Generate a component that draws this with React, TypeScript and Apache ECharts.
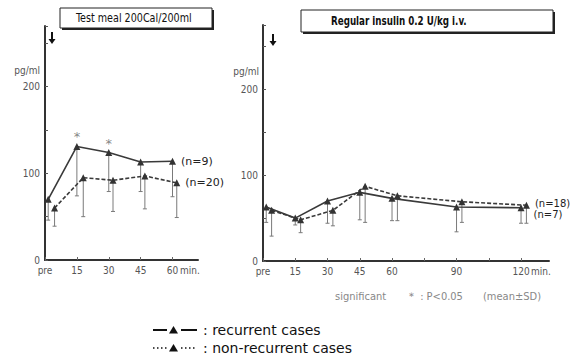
import { useEffect, useRef } from 'react';
import * as echarts from 'echarts';

// ---- data ----
const leftTickLabels: Record<number, string> = { 0: 'pre', 15: '15', 30: '30', 45: '45', 60: '60' };
const rightTickLabels: Record<number, string> = { 0: 'pre', 15: '15', 30: '30', 45: '45', 60: '60', 90: '90', 120: '120' };

// plotted x positions (minutes; slightly offset as in the original figure)
const leftRecX = [1.5, 15, 30, 45, 60];
const leftNonX = [4.5, 18, 32, 47, 62];
const leftRecMean = [70, 131, 124, 113, 114];
const leftRecSD = [24, 57, 45, 34, 41];
const leftNonMean = [60, 95, 92, 97, 89];
const leftNonSD = [21, 45, 36, 38, 40];
const leftSignificant = ['', '*', '*', '', ''];

const rightRecX = [1.5, 15, 30, 45, 60, 90, 120];
const rightNonX = [4, 17.5, 32.5, 47.5, 62.5, 92.5, 122.5];
const rightRecMean = [63, 50, 70, 80, 73, 63, 62];
const rightRecSD = [18, 8, 26, 32, 26, 29, 18];
const rightNonMean = [59, 48, 59, 87, 76, 69, 65];
const rightNonSD = [30, 15, 18, 42, 29, 24, 21];

const nLabels = { leftRec: '(n=9)', leftNon: '(n=20)', rightRec: '(n=7)', rightNon: '(n=18)' };

const LINE = '#3a3a3a';
const BAR = '#7a7a7a';
const LABEL = '#555';
const SANS = '"DejaVu Sans", sans-serif';
const NARROW = '"Liberation Sans Narrow", "DejaVu Sans Condensed", "Liberation Sans", Arial, sans-serif';

function errSeries(xs: number[], means: number[], sds: number[], idx: number) {
  return {
    type: 'custom',
    xAxisIndex: idx,
    yAxisIndex: idx,
    z: 1,
    silent: true,
    data: xs.map((x, i) => [x, means[i], means[i] - sds[i]]),
    renderItem: (_p: any, api: any) => {
      const top = api.coord([api.value(0), api.value(1)]);
      const bot = api.coord([api.value(0), api.value(2)]);
      return {
        type: 'group',
        children: [
          { type: 'line', shape: { x1: top[0], y1: top[1], x2: bot[0], y2: bot[1] }, style: { stroke: BAR, lineWidth: 1 } },
          { type: 'line', shape: { x1: bot[0] - 2, y1: bot[1], x2: bot[0] + 2, y2: bot[1] }, style: { stroke: BAR, lineWidth: 1 } },
        ],
      };
    },
  };
}

function lineSeries(xs: number[], means: number[], idx: number, dashed: boolean, labelFn: (i: number) => string, labelOffset: number[], fontSize: number) {
  return {
    type: 'line',
    xAxisIndex: idx,
    yAxisIndex: idx,
    z: 3,
    data: xs.map((x, i) => [x, means[i]]),
    symbol: 'triangle',
    symbolSize: 7,
    itemStyle: { color: '#333' },
    lineStyle: { color: LINE, width: 1.6, type: dashed ? [4, 2] : 'solid' },
    label: {
      show: true,
      position: 'right',
      offset: labelOffset,
      formatter: (p: any) => labelFn(p.dataIndex),
      color: '#222',
      fontSize,
      fontFamily: SANS,
    },
  };
}

function yAxis(idx: number, max: number) {
  return {
    type: 'value',
    gridIndex: idx,
    min: 0,
    max,
    interval: 50,
    axisLine: { show: true, lineStyle: { color: '#333', width: 2 } },
    axisTick: { show: true, inside: true, length: 3, lineStyle: { color: '#555' } },
    splitLine: { show: false },
    axisLabel: {
      margin: 5,
      color: LABEL,
      fontSize: 10,
      fontFamily: NARROW,
      formatter: (v: number) => (v === 0 || v === 100 || v === 200 ? String(v) : ''),
    },
  };
}

function xAxis(idx: number, max: number, labels: Record<number, string>) {
  return {
    type: 'value',
    gridIndex: idx,
    min: 0,
    max,
    interval: 15,
    axisLine: { show: true, lineStyle: { color: '#333', width: 2 } },
    axisTick: { show: true, inside: true, length: 3, lineStyle: { color: '#666' } },
    splitLine: { show: false },
    axisLabel: {
      margin: 5,
      color: LABEL,
      fontSize: 10,
      fontFamily: NARROW,
      showMaxLabel: false,
      formatter: (v: number) => labels[v] ?? '',
    },
  };
}

function titleBox(x: number, y: number, w: number, h: number, text: string, bold: boolean, tx: number, sx: number) {
  return [
    { type: 'rect', shape: { x: x + 2, y: y + 2, width: w, height: h }, style: { fill: '#222' }, z: 10 },
    { type: 'rect', shape: { x, y, width: w, height: h }, style: { fill: '#fff', stroke: '#222', lineWidth: 1 }, z: 11 },
    {
      type: 'text', x: tx, y: y + h / 2, z: 12, scaleX: sx,
      style: { text, fill: '#111', fontSize: 12, fontWeight: bold ? 'bold' : 'normal', fontFamily: NARROW, align: 'left', verticalAlign: 'middle' },
    },
  ];
}

function arrow(x: number, y1: number, y2: number) {
  return [
    { type: 'line', shape: { x1: x, y1, x2: x, y2: y2 - 4 }, style: { stroke: '#111', lineWidth: 2 }, z: 10 },
    { type: 'polygon', shape: { points: [[x - 3.5, y2 - 5], [x + 3.5, y2 - 5], [x, y2]] }, style: { fill: '#111' }, z: 10 },
  ];
}

function legendItem(y: number, dashed: boolean, text: string) {
  const x0 = 153;
  const lineStyle = { stroke: '#111', lineWidth: dashed ? 1.5 : 2, lineDash: dashed ? [1.5, 2.5] : undefined };
  return [
    { type: 'line', shape: { x1: x0, y1: y, x2: x0 + 14, y2: y }, style: lineStyle, z: 10 },
    { type: 'polygon', shape: { points: [[x0 + 16, y + 3.5], [x0 + 25, y + 3.5], [x0 + 20.5, y - 4]] }, style: { fill: '#111' }, z: 10 },
    { type: 'line', shape: { x1: x0 + 28, y1: y, x2: x0 + 44, y2: y }, style: lineStyle, z: 10 },
    {
      type: 'text', x: x0 + 50, y, z: 10,
      style: { text, fill: '#111', fontSize: 14, fontFamily: SANS, align: 'left', verticalAlign: 'middle' },
    },
  ];
}

export default function App() {
  const ref = useRef<HTMLDivElement>(null);
  useEffect(() => {
    if (!ref.current) return;
    const chart = echarts.init(ref.current, null, { renderer: 'svg' });
    const option: any = {
      animation: false,
      backgroundColor: '#fff',
      grid: [
        { left: 45, top: 26, width: 153, height: 234 },
        { left: 263, top: 25, width: 286, height: 236 },
      ],
      xAxis: [xAxis(0, 72, leftTickLabels), xAxis(1, 133, rightTickLabels)],
      yAxis: [yAxis(0, 270), yAxis(1, 275)],
      series: [
        errSeries(leftRecX, leftRecMean, leftRecSD, 0),
        errSeries(leftNonX, leftNonMean, leftNonSD, 0),
        errSeries(rightRecX, rightRecMean, rightRecSD, 1),
        errSeries(rightNonX, rightNonMean, rightNonSD, 1),
        lineSeries(leftRecX, leftRecMean, 0, false, (i) => (i === leftRecX.length - 1 ? nLabels.leftRec : ''), [0, 0], 11),
        {
          type: 'scatter', xAxisIndex: 0, yAxisIndex: 0, symbol: 'circle', symbolSize: 2, silent: true, z: 4,
          itemStyle: { color: 'rgba(0,0,0,0)' },
          data: leftRecX.map((x, i) => [x, leftRecMean[i]]),
          label: {
            show: true, position: 'top', distance: 2,
            formatter: (p: any) => leftSignificant[p.dataIndex],
            color: '#666', fontSize: 13, fontFamily: SANS,
          },
        },
        lineSeries(leftNonX, leftNonMean, 0, true, (i) => (i === leftNonX.length - 1 ? nLabels.leftNon : ''), [0, 0], 11),
        lineSeries(rightRecX, rightRecMean, 1, false, (i) => (i === rightRecX.length - 1 ? nLabels.rightRec : ''), [4, 7], 10),
        lineSeries(rightNonX, rightNonMean, 1, true, (i) => (i === rightNonX.length - 1 ? nLabels.rightNon : ''), [0, -2], 10),
      ],
      graphic: [
        ...titleBox(60, 8, 152, 20, 'Test meal 200Cal/200ml', false, 76, 0.89),
        ...titleBox(301, 10, 252, 22, 'Regular insulin 0.2 U/kg i.v.', true, 331, 0.81),
        ...arrow(52, 32, 44),
        ...arrow(273, 34, 46),
        { type: 'text', x: 40, y: 70, style: { text: 'pg/ml', fill: LABEL, fontSize: 10, fontFamily: NARROW, align: 'right', verticalAlign: 'middle' } },
        { type: 'text', x: 259, y: 71, style: { text: 'pg/ml', fill: LABEL, fontSize: 10, fontFamily: NARROW, align: 'right', verticalAlign: 'middle' } },
        { type: 'text', x: 180, y: 270, style: { text: 'min.', fill: LABEL, fontSize: 10, fontFamily: NARROW, align: 'left', verticalAlign: 'middle' } },
        { type: 'text', x: 531, y: 271, style: { text: 'min.', fill: LABEL, fontSize: 10, fontFamily: NARROW, align: 'left', verticalAlign: 'middle' } },
        { type: 'text', x: 335, y: 296, style: { text: 'significant', fill: '#888', fontSize: 11, fontFamily: NARROW, align: 'left', verticalAlign: 'middle' } },
        { type: 'text', x: 406, y: 296, style: { text: '＊ : P<0.05', fill: '#888', fontSize: 11, fontFamily: NARROW, align: 'left', verticalAlign: 'middle' } },
        { type: 'text', x: 483, y: 296, style: { text: '(mean±SD)', fill: '#888', fontSize: 11, fontFamily: NARROW, align: 'left', verticalAlign: 'middle' } },
        ...legendItem(330, false, ': recurrent cases'),
        ...legendItem(348, true, ': non-recurrent cases'),
      ],
    };
    chart.setOption(option);
    return () => chart.dispose();
  }, []);
  return <div ref={ref} style={{ position: 'absolute', left: 0, top: 0, width: 572, height: 357 }} />;
}
